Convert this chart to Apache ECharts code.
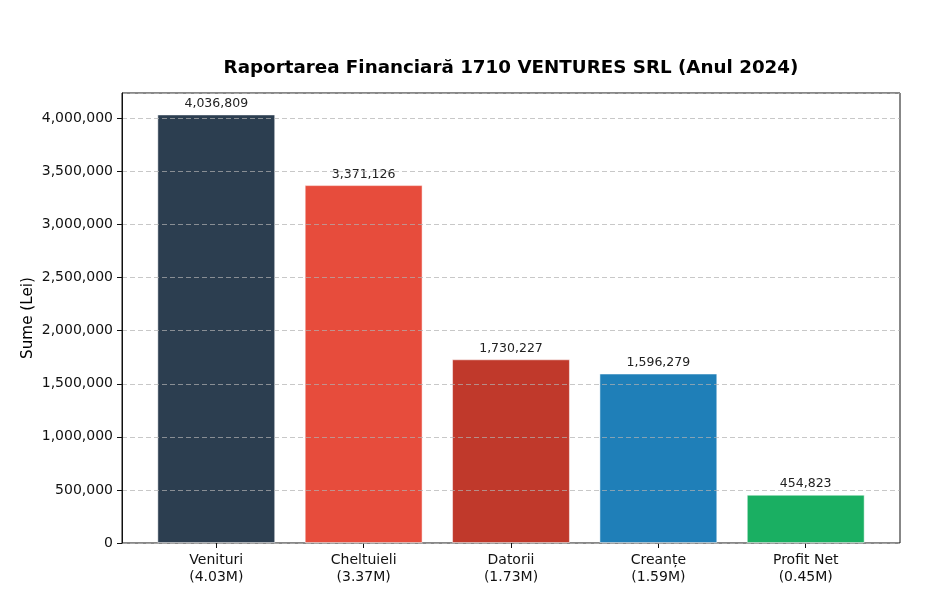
<!DOCTYPE html>
<html>
<head>
<meta charset="utf-8">
<script src="https://cdn.jsdelivr.net/npm/echarts@6/dist/echarts.min.js"></script>
<style>
  html, body { margin: 0; padding: 0; background: #fff; }
  #chart { width: 927px; height: 610px; }
</style>
</head>
<body>
<div id="chart"></div>
<script>
var categories = ["Venituri", "Cheltuieli", "Datorii", "Creanțe", "Profit Net"];
var shortLabels = ["(4.03M)", "(3.37M)", "(1.73M)", "(1.59M)", "(0.45M)"];
var values = [4036809, 3371126, 1730227, 1596279, 454823];
var colors = ["#2c3e50", "#e74c3c", "#c0392b", "#1f7fb8", "#1aaf62"];

var font = "DejaVu Sans";
var yMax = values[0] * 1.05;

function fmt(v) {
  return String(Math.round(v)).replace(/\B(?=(\d{3})+(?!\d))/g, ",");
}

var chart = echarts.init(document.getElementById("chart"));

var option = {
  backgroundColor: "#fff",
  animation: false,
  title: {
    text: "Raportarea Financiară 1710 VENTURES SRL (Anul 2024)",
    left: 506,
    textAlign: "center",
    top: 54,
    textStyle: { fontFamily: font, fontSize: 18.3, fontWeight: "bold", color: "#000" }
  },
  grid: [
    // frame + y axis
    { left: 122, right: 27, top: 93, bottom: 67, show: true, borderColor: "#111", borderWidth: 1, backgroundColor: "transparent" },
    // bars, with side margins like the source
    { left: 142.6, right: 47.6, top: 93, bottom: 67 }
  ],
  xAxis: [
    { gridIndex: 0, type: "value", min: 0, max: 1, show: false },
    {
      gridIndex: 1,
      type: "category",
      data: categories,
      axisLine: { show: false },
      axisTick: { show: true, alignWithLabel: true, length: 5, lineStyle: { color: "#111" } },
      axisLabel: {
        fontFamily: font,
        fontSize: 14,
        color: "#111",
        margin: 9,
        lineHeight: 17,
        formatter: function (v, i) { return v + "\n" + shortLabels[i]; }
      }
    }
  ],
  yAxis: [
    {
      gridIndex: 0,
      type: "value",
      min: 0,
      max: yMax,
      interval: 500000,
      z: 5,
      name: "Sume (Lei)",
      nameLocation: "middle",
      nameRotate: 90,
      nameGap: 86,
      nameMoveOverlap: false,
      nameTextStyle: { fontFamily: font, fontSize: 15.2, color: "#000" },
      axisLine: { show: true, lineStyle: { color: "#111" } },
      axisTick: { show: true, length: 5, lineStyle: { color: "#111" } },
      axisLabel: {
        fontFamily: font,
        fontSize: 14,
        color: "#111",
        margin: 9,
        showMaxLabel: false,
        formatter: function (v) { return fmt(v); }
      },
      splitLine: { show: true, lineStyle: { color: "rgba(176,176,176,0.7)", type: [5, 3], width: 1 } }
    },
    { gridIndex: 1, type: "value", min: 0, max: yMax, show: false, splitLine: { show: false } }
  ],
  series: [
    {
      type: "bar",
      xAxisIndex: 1,
      yAxisIndex: 1,
      barWidth: "80%",
      data: values.map(function (v, i) {
        return { value: v, itemStyle: { color: colors[i] } };
      }),
      itemStyle: { borderColor: "rgba(255,255,255,0.5)", borderWidth: 1 },
      label: {
        show: true,
        position: "top",
        distance: 4,
        fontFamily: font,
        fontSize: 12.5,
        color: "#222",
        formatter: function (p) { return fmt(p.value); }
      }
    }
  ]
};

chart.setOption(option);
window.addEventListener("resize", chart.resize);
</script>
</body>
</html>
